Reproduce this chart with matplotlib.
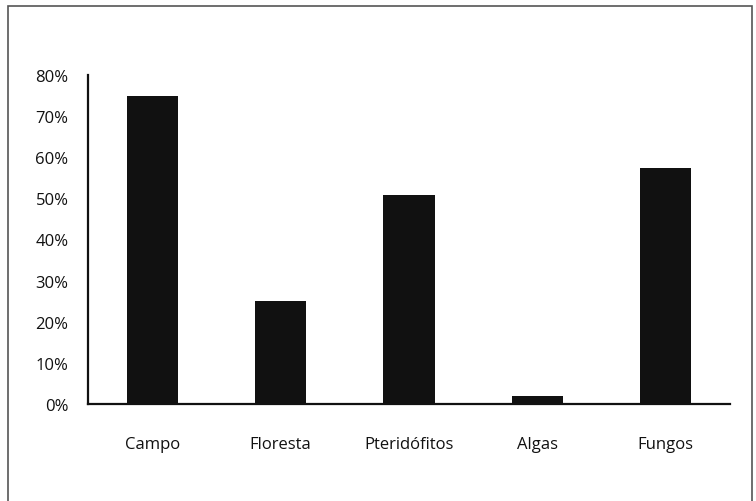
import matplotlib.pyplot as plt
from matplotlib.patches import Rectangle
from matplotlib.ticker import FuncFormatter
import numpy as np

categories = ['Campo', 'Floresta', 'Pteridófitos', 'Algas', 'Fungos']
values = [75, 25, 50.7, 2, 57.4]
yticks = [0, 10, 20, 30, 40, 50, 60, 70, 80]

plt.rcParams['font.family'] = ['Open Sans', 'DejaVu Sans']

fig = plt.figure(figsize=(7.56, 5.02), dpi=100)
ax = fig.add_axes([88/756, 97/502, 642/756, 329/502])

x = np.arange(len(categories))
ax.bar(x, values, width=0.4, color='#111111')

ax.set_xlim(-0.5, len(categories) - 0.5)
ax.set_ylim(0, 80)
ax.set_yticks(yticks)
ax.yaxis.set_major_formatter(FuncFormatter(lambda v, p: f'{v:.0f}%'))
ax.set_xticks(x)
ax.set_xticklabels(categories)

for s in ['top', 'right']:
    ax.spines[s].set_visible(False)
for s in ['left', 'bottom']:
    ax.spines[s].set_linewidth(1.6)
    ax.spines[s].set_color('#111111')

ax.tick_params(axis='y', length=0, pad=14, labelsize=12, labelcolor='#111111')
ax.tick_params(axis='x', length=0, pad=23, labelsize=12, labelcolor='#111111')

# outer frame
fig.patches.append(Rectangle((8/756, -0.02), 744/756, 1.0 - 7/502 + 0.02,
                             transform=fig.transFigure, fill=False,
                             edgecolor='#555555', linewidth=1.2))

plt.savefig('out.png', dpi=100)
